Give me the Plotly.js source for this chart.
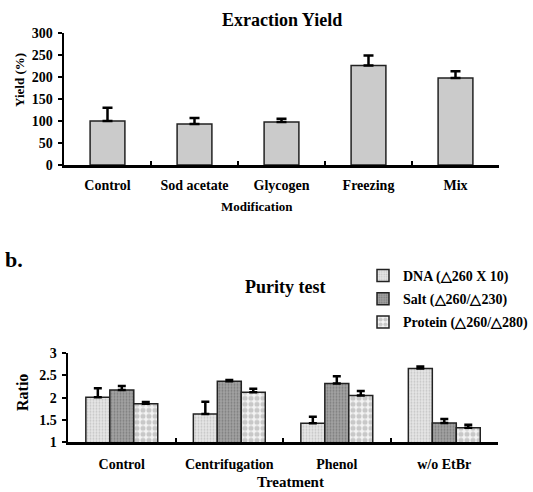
<!DOCTYPE html>
<html>
<head>
<meta charset="utf-8">
<script src="https://cdn.plot.ly/plotly-3.0.1.min.js"></script>
<style>html,body{margin:0;padding:0;background:#fff;overflow:hidden;}#chart{width:533px;height:492px;}</style>
</head>
<body>
<div id="chart"></div>
<script>
// ---- Data: panel a (Extraction Yield) ----
const yieldCats = ['Control', 'Sod acetate', 'Glycogen', 'Freezing', 'Mix'];
const yieldVals = [100, 93, 98, 226, 198];
const yieldErr  = [30, 14, 7, 23, 15];

// ---- Data: panel b (Purity test) ----
const purityCats = ['Control', 'Centrifugation', 'Phenol', 'w/o EtBr'];
const dnaVals  = [2.01, 1.63, 1.42, 2.66];
const dnaErr   = [0.20, 0.28, 0.15, 0.04];
const saltVals = [2.17, 2.37, 2.32, 1.43];
const saltErr  = [0.09, 0.03, 0.16, 0.09];
const protVals = [1.86, 2.12, 2.05, 1.32];
const protErr  = [0.04, 0.08, 0.10, 0.07];
const seriesNames = ['DNA (\u25B3260 X 10)', 'Salt (\u25B3260/\u25B3230)', 'Protein (\u25B3260/\u25B3280)'];

const FONT = 'Liberation Serif, Times New Roman, serif';
const W = 533, H = 492;
const px = v => v / W;
const py = v => 1 - v / H;
const zeros = a => a.map(() => 0);

const traces = [
  {
    type: 'bar', x: yieldCats, y: yieldVals, xaxis: 'x', yaxis: 'y',
    width: 0.4, showlegend: false,
    marker: { color: '#cbcbcb', line: { color: '#222', width: 1.5 } },
    error_y: { type: 'data', array: yieldErr, arrayminus: zeros(yieldErr), symmetric: false,
               color: '#000', thickness: 2.5, width: 5 }
  },
  {
    type: 'bar', name: seriesNames[0], x: purityCats, y: dnaVals, xaxis: 'x2', yaxis: 'y2',
    width: 0.223, offset: -0.334, legendgroup: 'a',
    marker: { color: '#e4e4e4', line: { color: '#222', width: 1.5 },
              pattern: { shape: '.', fgcolor: '#c4c4c4', bgcolor: '#e6e6e6', size: 3, solidity: 0.3 } },
    error_y: { type: 'data', array: dnaErr, arrayminus: zeros(dnaErr), symmetric: false,
               color: '#000', thickness: 2.5, width: 4 }
  },
  {
    type: 'bar', name: seriesNames[1], x: purityCats, y: saltVals, xaxis: 'x2', yaxis: 'y2',
    width: 0.223, offset: -0.111, legendgroup: 'b',
    marker: { color: '#9a9a9a', line: { color: '#222', width: 1.5 },
              pattern: { shape: '.', fgcolor: '#7c7c7c', bgcolor: '#a2a2a2', size: 3, solidity: 0.3 } },
    error_y: { type: 'data', array: saltErr, arrayminus: zeros(saltErr), symmetric: false,
               color: '#000', thickness: 2.5, width: 4 }
  },
  {
    type: 'bar', name: seriesNames[2], x: purityCats, y: protVals, xaxis: 'x2', yaxis: 'y2',
    width: 0.223, offset: 0.112, legendgroup: 'c',
    marker: { color: '#eeeeee', line: { color: '#222', width: 1.5 },
              pattern: { shape: '.', fgcolor: '#c8c8c8', bgcolor: '#f4f4f4', size: 6, solidity: 0.55 } },
    error_y: { type: 'data', array: protErr, arrayminus: zeros(protErr), symmetric: false,
               color: '#000', thickness: 2.5, width: 4 }
  }
];

const axisFont = { family: FONT, size: 14, color: '#000', weight: 'bold' };

const layout = {
  width: W, height: H,
  margin: { l: 0, r: 0, t: 0, b: 0, autoexpand: false },
  paper_bgcolor: '#fff', plot_bgcolor: '#fff',
  barmode: 'overlay',
  font: { family: FONT, color: '#000' },
  xaxis: {
    domain: [px(64), px(499)], anchor: 'y', type: 'category', automargin: false,
    showline: true, linecolor: '#000', linewidth: 2.5,
    ticks: 'inside', tickson: 'boundaries', ticklen: 4, tickwidth: 2, tickcolor: '#000',
    showgrid: false, zeroline: false, tickfont: axisFont, ticklabelstandoff: 6
  },
  yaxis: {
    domain: [py(165), py(33)], anchor: 'x', range: [0, 300], tickvals: [0, 50, 100, 150, 200, 250, 300],
    automargin: false,
    showline: true, linecolor: '#000', linewidth: 2.5,
    ticks: 'outside', ticklen: 4, tickwidth: 2, tickcolor: '#000',
    showgrid: false, zeroline: false, tickfont: axisFont, ticklabelstandoff: 2
  },
  xaxis2: {
    domain: [px(68), px(498)], anchor: 'y2', type: 'category', automargin: false,
    showline: true, linecolor: '#000', linewidth: 2.5,
    ticks: 'inside', tickson: 'boundaries', ticklen: 4, tickwidth: 2, tickcolor: '#000',
    showgrid: false, zeroline: false, tickfont: axisFont, ticklabelstandoff: 8
  },
  yaxis2: {
    domain: [py(442), py(353.3)], anchor: 'x2', range: [1, 3], tickvals: [1, 1.5, 2, 2.5, 3],
    automargin: false,
    showline: true, linecolor: '#000', linewidth: 2.5,
    ticks: 'outside', ticklen: 4, tickwidth: 2, tickcolor: '#000',
    showgrid: false, zeroline: false, tickfont: axisFont, ticklabelstandoff: 2
  },
  showlegend: true,
  legend: {
    x: px(363), y: py(260), xanchor: 'left', yanchor: 'top',
    bgcolor: 'rgba(0,0,0,0)', traceorder: 'grouped', tracegroupgap: 2,
    font: { family: FONT, size: 14, color: '#000', weight: 'bold' },
    itemwidth: 30
  },
  annotations: [
    { text: '<b>Exraction Yield</b>', x: px(282), y: py(20), xref: 'paper', yref: 'paper',
      xanchor: 'center', yanchor: 'middle', showarrow: false, font: { family: FONT, size: 18 } },
    { text: '<b>Modification</b>', x: px(257), y: py(207), xref: 'paper', yref: 'paper',
      xanchor: 'center', yanchor: 'middle', showarrow: false, font: { family: FONT, size: 13 } },
    { text: '<b>Yield (%)</b>', x: px(19), y: py(80), xref: 'paper', yref: 'paper', textangle: -90,
      xanchor: 'center', yanchor: 'middle', showarrow: false, font: { family: FONT, size: 13 } },
    { text: '<b>b.</b>', x: px(14), y: py(259), xref: 'paper', yref: 'paper',
      xanchor: 'center', yanchor: 'middle', showarrow: false, font: { family: FONT, size: 22 } },
    { text: '<b>Purity test</b>', x: px(285), y: py(287), xref: 'paper', yref: 'paper',
      xanchor: 'center', yanchor: 'middle', showarrow: false, font: { family: FONT, size: 18 } },
    { text: '<b>Ratio</b>', x: px(22), y: py(393), xref: 'paper', yref: 'paper', textangle: -90,
      xanchor: 'center', yanchor: 'middle', showarrow: false, font: { family: FONT, size: 16 } },
    { text: '<b>Treatment</b>', x: px(290), y: py(492), xref: 'paper', yref: 'paper',
      xanchor: 'center', yanchor: 'bottom', showarrow: false, font: { family: FONT, size: 15 } }
  ]
};

Plotly.newPlot('chart', traces, layout, { staticPlot: true, displayModeBar: false });
</script>
</body>
</html>
